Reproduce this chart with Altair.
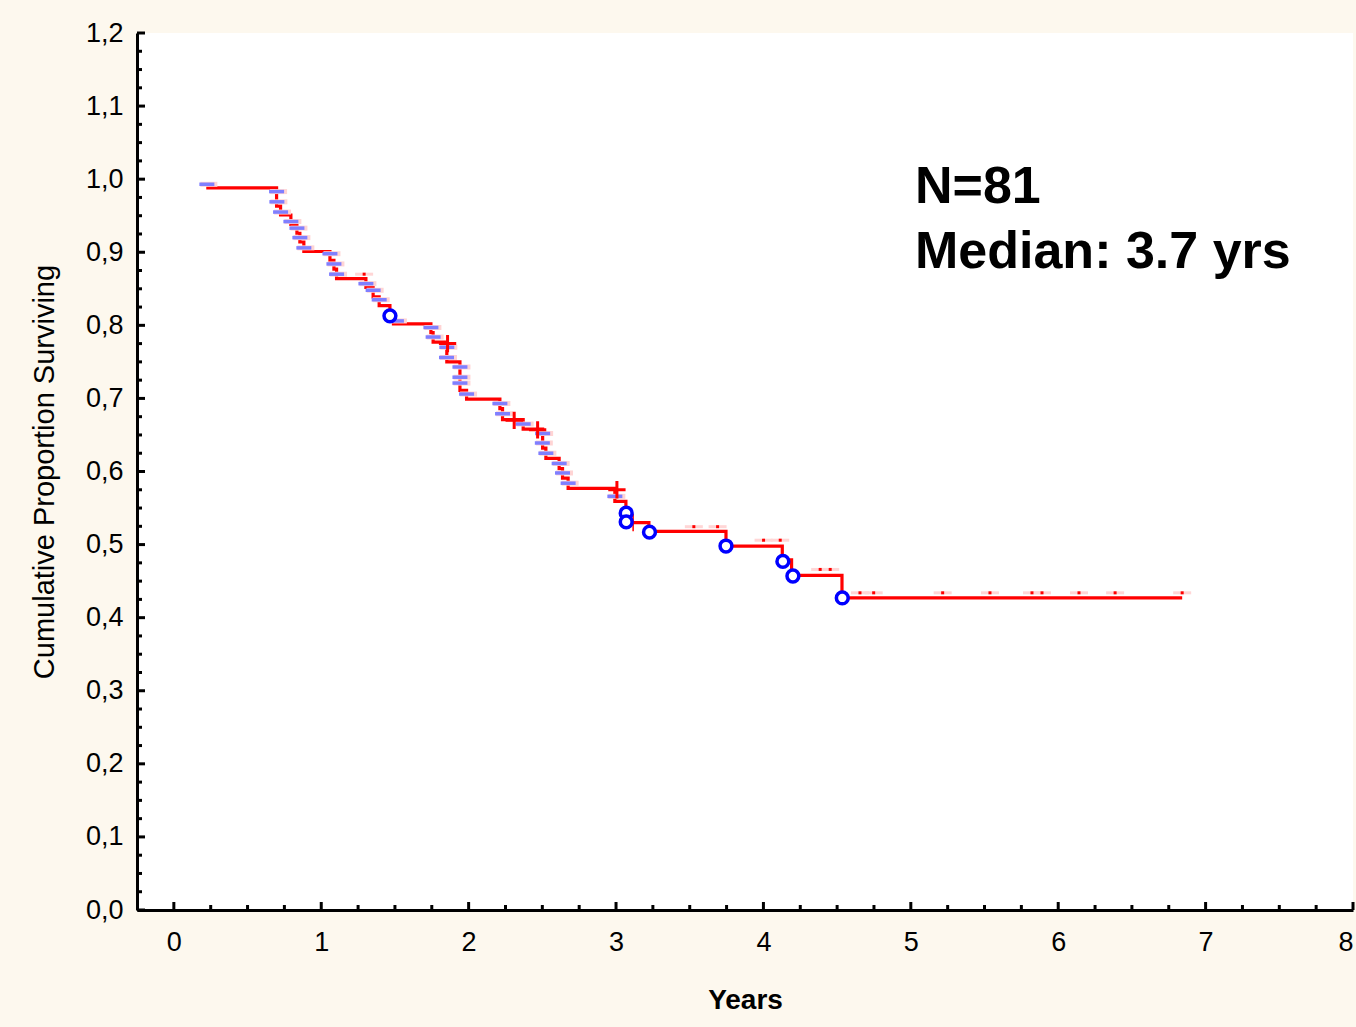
import altair as alt
import pandas as pd

FONT = "Liberation Sans"

# Kaplan-Meier step curve: time (years) and cumulative proportion surviving after each drop
step_t = [0.22, 0.697, 0.724, 0.794, 0.835, 0.855, 0.882, 1.059, 1.086, 1.104,
          1.303, 1.352, 1.393, 1.466, 1.49, 1.744, 1.759, 1.852, 1.941, 1.986,
          2.212, 2.230, 2.370, 2.502, 2.524, 2.614, 2.637, 2.675, 2.992, 3.067,
          3.223, 3.746, 4.128, 4.191, 4.533, 6.841]
step_s = [0.988, 0.963, 0.951, 0.938, 0.926, 0.914, 0.901, 0.889, 0.877, 0.864,
          0.852, 0.839, 0.827, 0.815, 0.802, 0.790, 0.777, 0.750, 0.711, 0.699,
          0.686, 0.671, 0.658, 0.632, 0.618, 0.604, 0.591, 0.577, 0.559, 0.530,
          0.518, 0.498, 0.479, 0.458, 0.427, 0.427]

# complete (event) markers: blue dashes
dash_t = [0.224, 0.697, 0.699, 0.724, 0.794, 0.835, 0.855, 0.882, 1.059, 1.086,
          1.104, 1.303, 1.352, 1.393, 1.51, 1.744, 1.759, 1.852, 1.850, 1.941,
          1.941, 1.941, 1.986, 2.212, 2.230, 2.370, 2.502, 2.500, 2.524, 2.614,
          2.637, 2.675, 2.992]
dash_s = [0.993, 0.983, 0.969, 0.955, 0.942, 0.933, 0.920, 0.906, 0.898, 0.884,
          0.870, 0.857, 0.848, 0.835, 0.806, 0.797, 0.784, 0.770, 0.756, 0.743,
          0.729, 0.721, 0.706, 0.693, 0.679, 0.665, 0.652, 0.639, 0.625, 0.611,
          0.598, 0.584, 0.566]

# blue circle markers
circ_t = [1.466, 3.069, 3.069, 3.227, 3.746, 4.132, 4.200, 4.535]
circ_s = [0.813, 0.543, 0.531, 0.517, 0.498, 0.477, 0.457, 0.427]

# censored markers: red crosses
plus_t = [1.857, 2.309, 2.468, 3.006]
plus_s = [0.775, 0.670, 0.657, 0.575]
plus_thin_t = [3.116]
plus_thin_s = [0.530]

# censored markers: small red dots
cens_t = [1.291, 3.528, 3.689, 4.001, 4.114, 4.385, 4.453, 4.655, 4.748, 5.216,
          5.537, 5.822, 5.890, 6.141, 6.386, 6.841]
cens_s = [0.870, 0.5245, 0.5245, 0.506, 0.506, 0.466, 0.466, 0.434, 0.434, 0.434,
          0.434, 0.434, 0.434, 0.434, 0.434, 0.434]

# axis ticks
x_major = [0, 1, 2, 3, 4, 5, 6, 7, 8]
x_minor = [0.25, 0.5, 0.75, 1.25, 1.5, 1.75, 2.25, 2.5, 2.75, 3.25, 3.5, 3.75,
           4.25, 4.5, 4.75, 5.25, 5.5, 5.75, 6.25, 6.5, 6.75, 7.25, 7.5, 7.75]
y_major = [0.0, 0.1, 0.2, 0.3, 0.4, 0.5, 0.6, 0.7, 0.8, 0.9, 1.0, 1.1, 1.2]
y_minor = [round(v + d, 3) for v in y_major[:-1] for d in (0.025, 0.05, 0.075)]

anno_lines = ["N=81", "Median: 3.7 yrs"]

XDOM = [-0.25, 8.0]
YDOM = [0.0, 1.2]

xs = alt.Scale(domain=XDOM, nice=False, zero=False)
ys = alt.Scale(domain=YDOM, nice=False, zero=False)

x_axis = alt.Axis(values=x_major, format="d", ticks=False, grid=False,
                  domainWidth=3, domainColor="black", labelFont=FONT,
                  labelFontSize=27, labelColor="black", labelPadding=19,
                  title="Years", titleFont=FONT, titleFontSize=28,
                  titleFontWeight="bold", titleColor="black", titlePadding=31)
y_axis = alt.Axis(values=y_major, ticks=False, grid=False,
                  labelExpr="replace(format(datum.value, '.1f'), '.', ',')",
                  domainWidth=3, domainColor="black", labelFont=FONT,
                  labelFontSize=27, labelColor="black", labelPadding=14,
                  title="Cumulative Proportion Surviving", titleFont=FONT,
                  titleFontSize=29, titleFontWeight="normal", titleColor="black",
                  titlePadding=26)

step_df = pd.DataFrame({"t": step_t, "s": step_s})
dash_df = pd.DataFrame({"t": dash_t, "s": dash_s})
circ_df = pd.DataFrame({"t": circ_t, "s": circ_s})
plus_df = pd.DataFrame({"t": plus_t, "s": plus_s})
plus_thin_df = pd.DataFrame({"t": plus_thin_t, "s": plus_thin_s})
cens_df = pd.DataFrame({"t": cens_t, "s": cens_s})

base_x = alt.X("t:Q", scale=xs, axis=x_axis)
base_y = alt.Y("s:Q", scale=ys, axis=y_axis)

PLUS = "M-1,0L1,0M0,-1L0,1"

line = alt.Chart(step_df).mark_line(
    interpolate="step-after", color="#FF0000", strokeWidth=3.2
).encode(x=base_x, y=base_y)

dash_halo = alt.Chart(dash_df).mark_tick(
    orient="horizontal", size=17, thickness=5, color="#FFD4D4", xOffset=2, opacity=1
).encode(x=alt.X("t:Q", scale=xs), y=alt.Y("s:Q", scale=ys))
dash = alt.Chart(dash_df).mark_tick(
    orient="horizontal", size=15, thickness=3.5, color="#7F7FFF", opacity=1
).encode(x=alt.X("t:Q", scale=xs), y=alt.Y("s:Q", scale=ys))

cens_halo = alt.Chart(cens_df).mark_tick(
    orient="horizontal", size=18, thickness=3, color="#FFD6D6", opacity=1
).encode(x=alt.X("t:Q", scale=xs), y=alt.Y("s:Q", scale=ys))
cens = alt.Chart(cens_df).mark_square(
    size=9, color="#FF0000", opacity=1
).encode(x=alt.X("t:Q", scale=xs), y=alt.Y("s:Q", scale=ys))

plus = alt.Chart(plus_df).mark_point(
    shape=PLUS, size=300, filled=False, color="#FF0000", strokeWidth=3, opacity=1
).encode(x=alt.X("t:Q", scale=xs), y=alt.Y("s:Q", scale=ys))
plus_thin = alt.Chart(plus_thin_df).mark_point(
    shape=PLUS, size=300, filled=False, color="#FF0000", strokeWidth=1.5, opacity=1
).encode(x=alt.X("t:Q", scale=xs), y=alt.Y("s:Q", scale=ys))

circ = alt.Chart(circ_df).mark_circle(
    size=140, fill="white", stroke="#0000FF", strokeWidth=3.5, opacity=1
).encode(x=alt.X("t:Q", scale=xs), y=alt.Y("s:Q", scale=ys))

ytm = alt.Chart(pd.DataFrame({"v": y_major})).mark_rule(color="black", strokeWidth=3).encode(
    y=alt.Y("v:Q", scale=ys), x=alt.value(0), x2=alt.value(8))
ytn = alt.Chart(pd.DataFrame({"v": y_minor})).mark_rule(color="black", strokeWidth=3).encode(
    y=alt.Y("v:Q", scale=ys), x=alt.value(0), x2=alt.value(5))
xtm = alt.Chart(pd.DataFrame({"v": x_major})).mark_rule(color="black", strokeWidth=3).encode(
    x=alt.X("v:Q", scale=xs), y=alt.value(877), y2=alt.value(869))
xtn = alt.Chart(pd.DataFrame({"v": x_minor})).mark_rule(color="black", strokeWidth=3).encode(
    x=alt.X("v:Q", scale=xs), y=alt.value(877), y2=alt.value(872))

anno = alt.Chart(pd.DataFrame({"txt": ["\n".join(anno_lines)]})).mark_text(
    lineBreak="\n", lineHeight=65, align="left", baseline="alphabetic",
    fontSize=52, fontWeight="bold", font=FONT, color="black"
).encode(x=alt.value(778), y=alt.value(170), text="txt:N")

chart = alt.layer(
    line, ytm, ytn, xtm, xtn, dash_halo, dash, cens_halo, cens, plus, plus_thin, circ, anno
).properties(
    width=1216, height=877,
    autosize=alt.AutoSizeParams(type="none"),
    padding={"left": 137, "top": 33, "right": 3, "bottom": 117},
    background="#FDF8EE",
).configure_view(fill="white", stroke=None)

chart.save("out.html", embed_options={"renderer": "svg", "actions": False})
